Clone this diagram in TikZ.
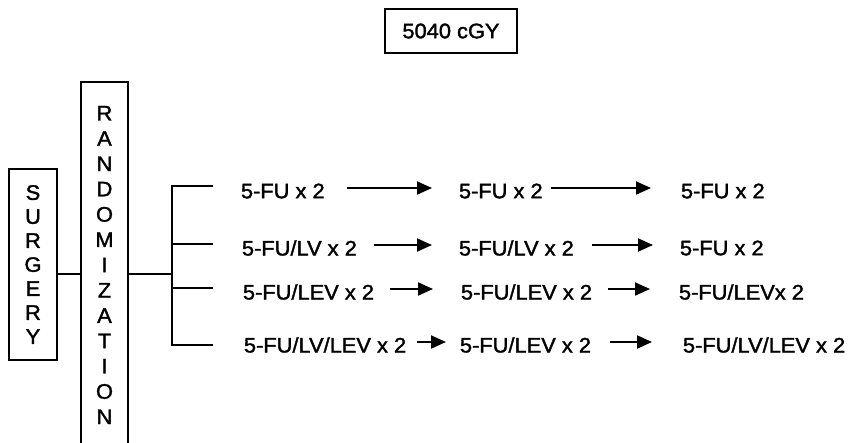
\documentclass[tikz,border=0pt]{standalone}
\usepackage{fontspec}
\setmainfont{Liberation Sans}[FakeStretch=1.04,FakeBold=1.6]
\usetikzlibrary{arrows.meta,positioning}

\begin{document}
\begin{tikzpicture}[x=1pt,y=-1pt,line width=1.9pt,
  font=\fontsize{21}{25}\selectfont,
  box/.style={draw,inner sep=0pt,align=center},
  drug/.style={anchor=west,inner sep=0pt},
  arr/.style={-{Triangle[length=15pt,width=13pt]}}]
  \clip (0,0) rectangle (850,442);
  % dose box
  \node[box,minimum width=132pt,minimum height=44pt] (dose) at (451,31) {5040 cGY};
  % vertical boxes
  \node[box,minimum width=48pt,minimum height=191pt,font=\fontsize{21}{24}\selectfont] (surg) at (33,264.5) {S\\U\\R\\G\\E\\R\\Y};
  \node[box,minimum width=47pt,minimum height=366pt,font=\fontsize{21}{25.3}\selectfont] (rand) at (104.5,265) {R\\A\\N\\D\\O\\M\\I\\Z\\A\\T\\I\\O\\N};
  % regimens
  \node[drug] (r1a) at (240,191) {5-FU x 2};
  \node[drug] (r1b) at (458,191) {5-FU x 2};
  \node[drug] (r1c) at (680,191) {5-FU x 2};
  \node[drug] (r2a) at (241,248) {5-FU/LV x 2};
  \node[drug] (r2b) at (458,248) {5-FU/LV x 2};
  \node[drug] (r2c) at (679,248) {5-FU x 2};
  \node[drug] (r3a) at (242,292) {5-FU/LEV x 2};
  \node[drug] (r3b) at (460,292) {5-FU/LEV x 2};
  \node[drug] (r3c) at (678,292) {5-FU/LEVx 2};
  \node[drug] (r4a) at (243,345) {5-FU/LV/LEV x 2};
  \node[drug] (r4b) at (459,345) {5-FU/LEV x 2};
  \node[drug] (r4c) at (682,345) {5-FU/LV/LEV x 2};
  % bracket
  \coordinate (hub) at (172,274);
  \coordinate (b1) at (213,186);
  \coordinate (b2) at (213,244);
  \coordinate (b3) at (213,288);
  \coordinate (b4) at (213,345);
  \draw (surg.east |- hub) -- (rand.west |- hub);
  \draw (rand.east |- hub) -- (hub);
  \draw (b1) -- (b1 -| hub) -- (b4 -| hub) -- (b4);
  \draw (b2 -| hub) -- (b2);
  \draw (b3 -| hub) -- (b3);
  % arrows
  \foreach \a/\b/\s/\e in {r1a/r1b/21/26, r1b/r1c/7/29, r2a/r2b/16/26, r2b/r2c/17/26,
                           r3a/r3b/15/27, r3b/r3c/15/28, r4a/r4b/10/13, r4b/r4c/18/30}
    \draw[arr] ([xshift=\s pt,yshift=3pt]\a.east) -- ([xshift=-\e pt,yshift=3pt]\b.west);
\end{tikzpicture}
\end{document}
